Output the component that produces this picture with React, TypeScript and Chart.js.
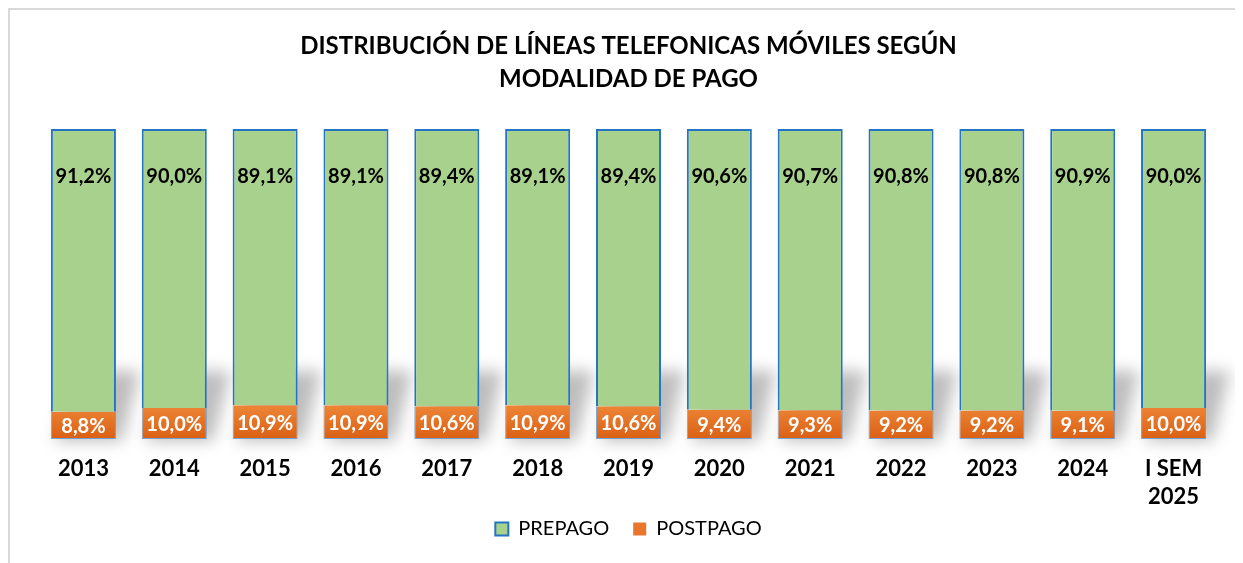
import React, { useEffect, useRef } from "react";
import { Chart, registerables } from "chart.js";

Chart.register(...registerables);

const categories: (string | string[])[] = [
  "2013", "2014", "2015", "2016", "2017", "2018", "2019",
  "2020", "2021", "2022", "2023", "2024", ["I SEM", "2025"],
];
const prepago = [91.2, 90.0, 89.1, 89.1, 89.4, 89.1, 89.4, 90.6, 90.7, 90.8, 90.8, 90.9, 90.0];
const postpago = [8.8, 10.0, 10.9, 10.9, 10.6, 10.9, 10.6, 9.4, 9.3, 9.2, 9.2, 9.1, 10.0];

const titleLines = ["DISTRIBUCIÓN DE LÍNEAS TELEFONICAS MÓVILES SEGÚN", "MODALIDAD DE PAGO"];

const GREEN = "#A9D18E";
const BLUE = "#2375C4";
const ORANGE = "#E8762D";
const FONT = "Lato";

const fmt = (v: number) => v.toFixed(1).replace(".", ",") + "%";

const shadowPlugin = {
  id: "barShadow",
  beforeDatasetsDraw(chart: any) {
    const { ctx } = chart;
    const meta = chart.getDatasetMeta(0);
    ctx.save();
    ctx.filter = "blur(8px)";
    ctx.fillStyle = "rgba(0,0,0,0.26)";
    meta.data.forEach((bar: any) => {
      const w = bar.width;
      const l = bar.x - w / 2;
      const r = bar.x + w / 2;
      const b = bar.base;
      ctx.beginPath();
      ctx.moveTo(l + 4, b + 2);
      ctx.lineTo(r + 6, b + 2);
      ctx.lineTo(r + 24, b - 68);
      ctx.lineTo(l + 22, b - 68);
      ctx.closePath();
      ctx.fill();
    });
    ctx.restore();
  },
};

const labelPlugin = {
  id: "barLabels",
  afterDatasetsDraw(chart: any) {
    const { ctx } = chart;
    chart.data.datasets.forEach((ds: any, di: number) => {
      const meta = chart.getDatasetMeta(di);
      meta.data.forEach((bar: any, i: number) => {
        const txt = fmt(ds.data[i]);
        ctx.save();
        ctx.font = `bold 20px ${FONT}`;
        ctx.textAlign = "center";
        ctx.textBaseline = "middle";
        if (di === 0) {
          ctx.fillStyle = "#FFFFFF";
          ctx.fillText(txt, bar.x, (bar.y + bar.base) / 2 + 1);
        } else {
          ctx.fillStyle = "#000000";
          ctx.fillText(txt, bar.x, bar.y + 48);
        }
        ctx.restore();
      });
    });
  },
};

const xLabelPlugin = {
  id: "xLabels",
  afterDraw(chart: any) {
    const { ctx, chartArea } = chart;
    const xs = chart.scales.x;
    ctx.save();
    ctx.font = `bold 22px ${FONT}`;
    ctx.fillStyle = "#000000";
    ctx.textAlign = "center";
    ctx.textBaseline = "middle";
    chart.data.labels.forEach((lab: any, i: number) => {
      const x = xs.getPixelForValue(i);
      const lines = Array.isArray(lab) ? lab : [lab];
      lines.forEach((t: string, j: number) => {
        ctx.fillText(t, x, chartArea.bottom + 30 + j * 28);
      });
    });
    ctx.restore();
  },
};

export default function App() {
  const ref = useRef<HTMLCanvasElement>(null);

  useEffect(() => {
    const canvas = ref.current;
    if (!canvas) return;
    const chart = new Chart(canvas, {
      type: "bar",
      data: {
        labels: categories,
        datasets: [
          {
            label: "POSTPAGO",
            data: postpago,
            backgroundColor: (c: any) => {
              const area = c.chart.chartArea;
              if (!area) return ORANGE;
              const g = c.chart.ctx.createLinearGradient(0, area.bottom - 38, 0, area.bottom);
              g.addColorStop(0, "#F08A3B");
              g.addColorStop(1, "#DA6014");
              return g;
            },
            borderColor: "rgba(80,140,205,0.75)",
            borderWidth: { left: 1, right: 1, bottom: 1, top: 0 },
            borderSkipped: false,
            barPercentage: 0.716,
            categoryPercentage: 1,
          },
          {
            label: "PREPAGO",
            data: prepago,
            backgroundColor: GREEN,
            borderColor: BLUE,
            borderWidth: 2,
            borderSkipped: "bottom",
            barPercentage: 0.716,
            categoryPercentage: 1,
          },
        ],
      },
      options: {
        responsive: false,
        animation: false,
        layout: { padding: { left: 28, right: 24, top: 0, bottom: 14 } },
        plugins: {
          title: {
            display: true,
            text: titleLines,
            color: "#000000",
            font: { family: FONT, size: 24, weight: "bold", lineHeight: 1.375 },
            padding: { top: 20, bottom: 33 },
          },
          legend: {
            position: "bottom",
            labels: {
              boxWidth: 13,
              boxHeight: 13,
              padding: 24,
              color: "#595959",
              font: { family: FONT, size: 20 },
              generateLabels: () => [
                { text: "PREPAGO", fillStyle: GREEN, strokeStyle: BLUE, lineWidth: 2, datasetIndex: 1, hidden: false },
                { text: "POSTPAGO", fillStyle: ORANGE, strokeStyle: ORANGE, lineWidth: 0, datasetIndex: 0, hidden: false },
              ],
            },
          },
          tooltip: { enabled: false },
        },
        scales: {
          x: {
            stacked: true,
            grid: { display: false },
            border: { display: false },
            ticks: { display: false, autoSkip: false },
            afterFit: (scale: any) => {
              scale.height = 56;
            },
          },
          y: {
            stacked: true,
            display: false,
            min: 0,
            max: 100,
          },
        },
      },
      plugins: [shadowPlugin, labelPlugin, xLabelPlugin],
    });
    return () => chart.destroy();
  }, []);

  return (
    <div
      style={{
        width: 1233,
        height: 553,
        borderTop: "2px solid #D9D9D9",
        borderLeft: "2px solid #D9D9D9",
        background: "#FFFFFF",
      }}
    >
      <canvas ref={ref} width={1233} height={553} style={{ display: "block", width: 1233, height: 553 }} />
    </div>
  );
}
